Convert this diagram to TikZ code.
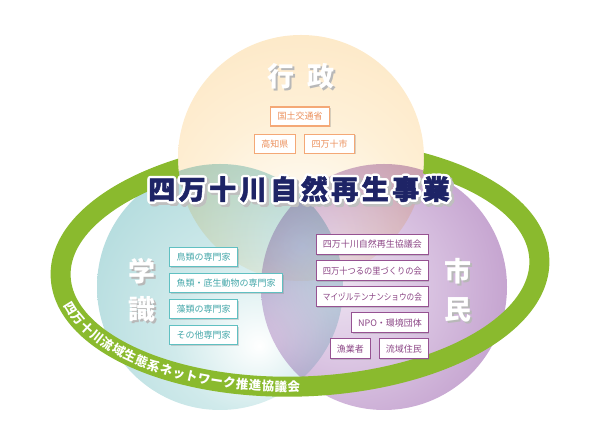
\documentclass[tikz,border=0pt]{standalone}
\usepackage{fontspec}
\setmainfont{Noto Sans CJK JP}
\usepackage{contour}
\usetikzlibrary{positioning,shadows,decorations.text}
\contourlength{2.4pt}
\definecolor{GyoseiEdge}{RGB}{252,220,172}
\definecolor{GyoseiMid}{RGB}{254,240,215}
\definecolor{GakuEdge}{RGB}{148,204,207}
\definecolor{GakuMid}{RGB}{208,234,235}
\definecolor{ShiminEdge}{RGB}{170,122,184}
\definecolor{ShiminMid}{RGB}{218,196,226}
\definecolor{GyoseiLine}{RGB}{244,168,118}
\definecolor{GyoseiText}{RGB}{236,144,92}
\definecolor{GakuLine}{RGB}{96,192,194}
\definecolor{GakuText}{RGB}{70,168,170}
\definecolor{ShiminLine}{RGB}{150,82,146}
\definecolor{ShiminText}{RGB}{140,70,134}
\definecolor{RingGreen}{RGB}{138,186,46}
\definecolor{TitleNavy}{RGB}{30,36,102}
\pgfdeclareradialshading{gyoseiglow}{\pgfpoint{0bp}{-18bp}}{color(0bp)=(white); color(22bp)=(GyoseiMid); color(62bp)=(GyoseiEdge); color(80bp)=(GyoseiEdge)}
\pgfdeclareradialshading{gakuglow}{\pgfpoint{8bp}{-12bp}}{color(0bp)=(white); color(16bp)=(GakuMid); color(56bp)=(GakuEdge); color(80bp)=(GakuEdge)}
\pgfdeclareradialshading{shiminglow}{\pgfpoint{-10bp}{0bp}}{color(0bp)=(white!50!ShiminMid); color(16bp)=(ShiminMid); color(52bp)=(ShiminEdge); color(80bp)=(ShiminEdge)}
\newcommand{\boxfont}{\fontsize{9pt}{10pt}\selectfont}
\newcommand{\headfont}{\fontsize{27pt}{38pt}\selectfont\bfseries}
\newcommand{\ringfont}{\fontsize{12.5pt}{13pt}\selectfont\bfseries}
\newcommand{\titlefont}{\fontsize{27pt}{27pt}\selectfont\bfseries\addfontfeatures{LetterSpace=13,FakeBold=1.6}}
\newcommand{\fitw}[1]{\resizebox{99pt}{\height}{#1}}
\newcommand{\headshadow}[1]{\makebox[0pt][l]{\hspace{2pt}\raisebox{-2pt}{\textcolor{black!28}{#1}}}\textcolor{white}{#1}}
\newcommand{\shadowed}[3]{\makebox[0pt][l]{\hspace{2.5pt}\raisebox{-2.5pt}{\contour{black!25}{\textcolor{black!25}{#3}}}}\contour{#1}{\textcolor{#2}{#3}}}
\tikzset{
  boxbase/.style={
    draw,
    line width=1.1pt,
    fill=white,
    minimum height=19pt,
    inner xsep=7pt,
    inner ysep=0pt,
    font=\boxfont,
    drop shadow={shadow xshift=1pt, shadow yshift=-1pt, opacity=.3}
  },
  gyobox/.style={boxbase, draw=GyoseiLine, text=GyoseiText},
  gakubox/.style={boxbase, draw=GakuLine, text=GakuText},
  shiminbox/.style={boxbase, draw=ShiminLine, text=ShiminText, minimum height=20pt, inner xsep=6.5pt},
  heading/.style={font=\headfont, align=center, inner sep=0pt},
  ring/.style={draw=RingGreen, line width=20pt}
}
\begin{document}
\begin{tikzpicture}[x=1pt, y=1pt]
\useasboundingbox (0,0) rectangle (600,436);
% three circles
\begin{scope}[blend group=multiply]
  \shade[shading=gakuglow] (220,149) circle[radius=123];
  \shade[shading=shiminglow] (384,149) circle[radius=123];
  \shade[shading=gyoseiglow] (301,278) circle[radius=123];
\end{scope}
% network ring, hidden behind the top circle
\begin{scope}[even odd rule]
  \clip (0,0) rectangle (600,436) (301,278) circle[radius=123];
  \begin{scope}[shift={(300,168)}, rotate=2]
    \draw[ring] (0,0) ellipse[x radius=239.5, y radius=118.5];
  \end{scope}
\end{scope}
\begin{scope}[shift={(300,168)}, rotate=2]
  \path[decorate, decoration={text along path, text align={fit to path}, raise=-4.5pt, text color=white,
    text={|\ringfont|四万十川流域生態系ネットワーク推進協議会}}]
    (193:239.5 and 118.5) arc[start angle=193, end angle=269, x radius=239.5, y radius=118.5];
\end{scope}

% headings
\node[heading] (gyosei) at (301,359) {\headshadow{行}\hspace{13pt}\headshadow{政}};
\node[heading] (gakushiki) at (142,145) {\headshadow{学}\\\headshadow{識}};
\node[heading] (shimin) at (458,145) {\headshadow{市}\\\headshadow{民}};

% administration
\node[gyobox] (mlit) at (300,319.5) {国土交通省};
\node[gyobox, below left=7pt and 4pt of mlit.south] (kochi) {高知県};
\node[gyobox, below right=7pt and 4pt of mlit.south] (shimanto) {四万十市};

% experts
\node[gakubox, anchor=north west] (birds) at (169,189) {鳥類の専門家};
\node[gakubox, below right=6pt and 0pt of birds.south west] (fish) {魚類・底生動物の専門家};
\node[gakubox, below right=6pt and 0pt of fish.south west] (algae) {藻類の専門家};
\node[gakubox, below right=6pt and 0pt of algae.south west] (others) {その他専門家};

% citizens
\node[shiminbox, anchor=north east] (council) at (429,202) {\fitw{四万十川自然再生協議会}};
\node[shiminbox, below left=5pt and 0pt of council.south east] (crane) {\fitw{四万十つるの里づくりの会}};
\node[shiminbox, below left=5pt and 0pt of crane.south east] (arisaema) {\fitw{マイヅルテンナンショウの会}};
\node[shiminbox, below left=5pt and 0pt of arisaema.south east] (npo) {NPO・環境団体};
\node[shiminbox, below left=5pt and 0pt of npo.south east] (residents) {流域住民};
\node[shiminbox, left=8pt of residents] (fishers) {漁業者};

% title
\node[font=\titlefont, inner sep=0pt] (title) at (299,244.5) {\shadowed{white}{TitleNavy}{四万十川自然再生事業}};
\end{tikzpicture}
\end{document}
